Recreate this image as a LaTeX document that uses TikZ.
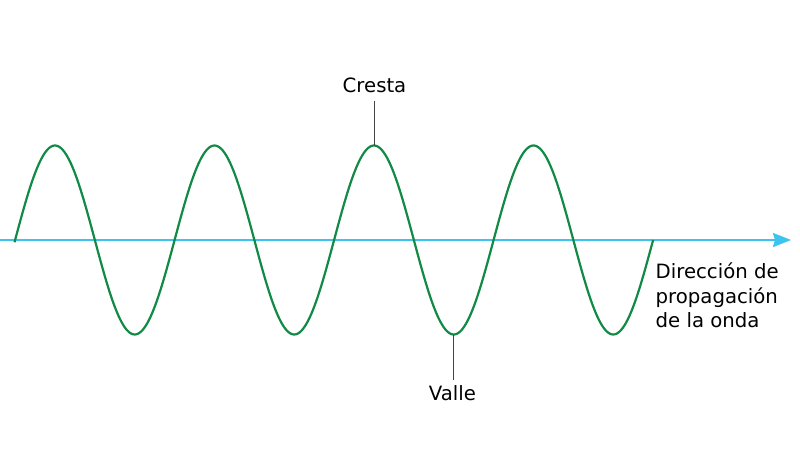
\documentclass[tikz,border=0pt]{standalone}
\usepackage{fontspec}
\setmainfont{DejaVu Sans}
\usetikzlibrary{arrows.meta}
\definecolor{wavegreen}{HTML}{108A45}
\definecolor{axiscyan}{HTML}{3CC4EE}
\definecolor{leadergray}{HTML}{444444}
\begin{document}
\begin{tikzpicture}[x=1pt,y=-1pt,
  wave/.style={wavegreen, line width=2.2pt, line join=round},
  axisline/.style={axiscyan, line width=2.2pt, -{Stealth[length=18pt,width=14pt,inset=2pt]}},
  leader/.style={leadergray, line width=1pt},
  lbl/.style={font=\fontsize{19.7}{24.3}\selectfont, inner sep=0pt, text=black}]
\useasboundingbox (0,0) rectangle (800,458);
% axis
\coordinate (ax0) at (0,240);
\coordinate (ax1) at (791,240);
\draw[axisline] (ax0) -- (ax1);
% wave
\draw[wave] plot[domain=14.5:653.1, samples=400, smooth] (\x,{240-94.5*sin(((\x-15.1)/159.5)*360)});
% crest and trough points
\coordinate (crest) at (374,145.5);
\coordinate (trough) at (453.5,334.5);
% labels
\node[lbl, anchor=base] (cresta) at (374.5,92) {Cresta};
\node[lbl, anchor=base] (valle) at (452.5,400) {Valle};
\node[lbl, anchor=base west, align=left] (dir) at (655.5,327.5) {Dirección de\\propagación\\de la onda};
% leaders
\coordinate (crestTop) at (374,101);
\coordinate (troughBot) at (453.5,380);
\draw[leader] (crest) -- (crestTop);
\draw[leader] (trough) -- (troughBot);
\end{tikzpicture}
\end{document}
